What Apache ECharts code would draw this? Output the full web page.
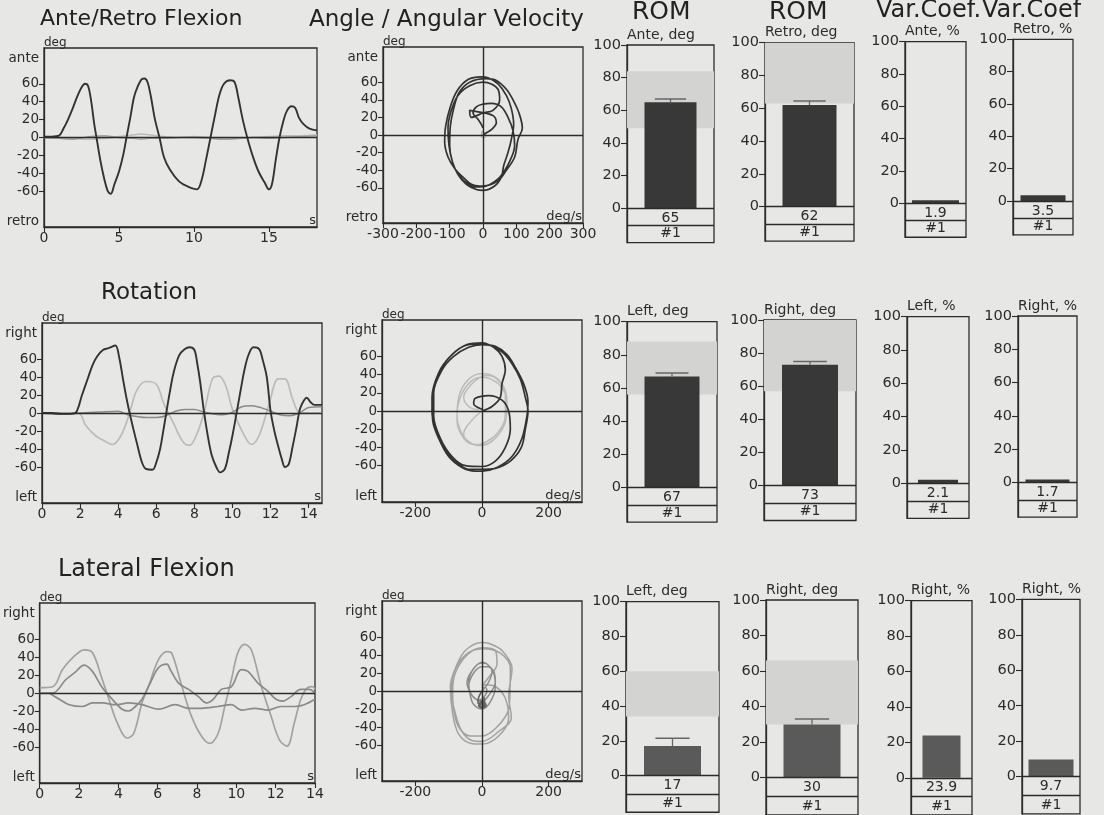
<!DOCTYPE html>
<html><head><meta charset="utf-8">
<script src="https://cdn.jsdelivr.net/npm/echarts@6/dist/echarts.min.js"></script>
<style>html,body{margin:0;padding:0;background:#e7e7e5;}#c{width:1104px;height:815px;}</style>
</head><body><div id="c"></div>
<script>
// ---------- DATA ----------
// Row 1: Ante/Retro flexion, time (s) vs angle (deg)
const t1Main = [[0,1],[0.5,1],[1.0,2],[1.3,10],[1.6,20],[1.9,32],[2.2,45],[2.5,56],[2.75,60],[2.95,57],[3.15,40],[3.35,15],[3.5,0],[3.75,-25],[4.0,-45],[4.25,-60],[4.45,-63],[4.7,-52],[5.0,-38],[5.3,-18],[5.5,0],[5.75,22],[6.0,45],[6.25,57],[6.5,65],[6.7,66],[6.9,62],[7.1,48],[7.4,20],[7.7,0],[8.0,-22],[8.4,-36],[9.0,-49],[9.6,-55],[10.2,-58],[10.5,-48],[10.8,-25],[11.1,0],[11.4,25],[11.7,48],[12.0,60],[12.4,64],[12.7,62],[12.95,45],[13.25,20],[13.55,0],[13.9,-20],[14.3,-38],[14.7,-50],[15.0,-58],[15.2,-52],[15.45,-25],[15.7,0],[15.95,18],[16.2,30],[16.5,35],[16.75,33],[17.0,22],[17.3,15],[17.7,10],[18.2,8]];
const t1Faint1 = [[0,0],[1,0],[2,-1],[3,-2],[4,-1],[5,1],[6,3],[6.5,4],[7,3],[8,1],[9,0],[10,1],[11,0],[12,-2],[13,-1],[14,0],[15,1],[16,2],[17,2],[18.2,3]];
const t1Faint2 = [[0,0],[1,-1],[2,-2],[3,1],[4,2],[5,0],[6,-1],[6.5,-2],[7,-1],[8,-1],[9,0],[10,0],[11,-1],[12,-2],[13,-1],[14,0],[15,-1],[16,0],[17,1],[18.2,2]];
// Row 1: angle vs angular velocity (deg/s, deg)
const p1Main = [[0,0],[8,2],[25,6],[40,14],[30,22],[-10,26],[-40,28],[-35,20],[0,25],[30,28],[50,40],[45,52],[25,58],[0,60],[-40,56],[-75,45],[-95,28],[-105,8],[-102,-12],[-92,-30],[-75,-45],[-50,-56],[-20,-62],[0,-63],[35,-58],[55,-48],[62,-35],[75,-20],[85,-5],[92,12],[85,30],[70,45],[45,58],[15,65],[-5,66],[-45,63],[-78,50],[-98,32],[-112,10],[-115,-8],[-105,-25],[-85,-38],[-60,-48],[-35,-56],[-10,-58],[0,-58],[45,-52],[70,-40],[95,-25],[105,-5],[118,8],[108,25],[90,40],[70,52],[40,62],[10,64],[-40,60],[-72,48],[-88,30],[-98,10],[-100,-12],[-92,-30],[-72,-46],[-40,-57],[-10,-59],[10,-58],[50,-48],[80,-30],[95,-12],[90,5],[75,20],[55,32],[25,36],[0,35],[-20,32],[-30,25],[-15,18],[-5,12],[0,8]];
const p1Faint = [[0,0],[8,3],[5,-3],[-5,-2],[-3,4],[6,2],[0,1]];

// Row 2: Rotation
const t2Main = [[0,0],[0.5,0],[1.0,-1],[1.5,-1],[1.8,1],[2.1,20],[2.4,38],[2.65,53],[2.9,63],[3.2,70],[3.5,72],[3.85,75],[4.05,62],[4.25,38],[4.45,15],[4.6,0],[4.8,-18],[5.0,-35],[5.25,-55],[5.45,-62],[5.8,-63],[6.0,-55],[6.2,-40],[6.35,-22],[6.5,-3],[6.7,22],[6.9,44],[7.2,64],[7.5,71],[7.75,73],[8.0,70],[8.15,55],[8.3,35],[8.5,2],[8.7,-25],[8.9,-46],[9.15,-60],[9.35,-66],[9.6,-62],[9.8,-45],[10.0,-25],[10.25,4],[10.45,28],[10.65,50],[10.85,65],[11.1,73],[11.4,71],[11.6,58],[11.8,40],[12.0,2],[12.2,-20],[12.4,-37],[12.6,-52],[12.75,-60],[12.95,-57],[13.15,-38],[13.35,-17],[13.55,5],[13.75,14],[13.9,17],[14.1,12],[14.3,9],[14.7,9]];
const t2Light = [[0,0],[1.9,0],[2.3,-14],[2.8,-25],[3.2,-30],[3.7,-35],[4.15,-25],[4.6,0],[4.95,24],[5.45,35],[6.0,32],[6.4,10],[6.85,-9],[7.4,-32],[7.75,-36],[8.1,-25],[8.5,0],[8.95,38],[9.3,41],[9.65,30],[10.0,4],[10.55,-22],[11.0,-35],[11.4,-25],[11.95,12],[12.4,38],[12.75,38],[13.15,16],[13.5,1],[14.0,0],[14.7,0]];
const t2Mid = [[0,0],[1,-1],[2,0],[3,1],[4,2],[4.5,-2],[5,-4],[5.5,-5],[6,-5],[6.5,-3],[7,2],[7.5,4],[8,4],[8.5,1],[9,-1],[9.5,-2],[10,1],[10.5,7],[11,8],[11.5,6],[12,2],[12.5,-2],[13,-3],[13.5,0],[14,6],[14.7,7]];
const p2Main = [[0,0],[30,5],[55,15],[60,30],[70,45],[60,60],[35,70],[0,75],[-45,73],[-90,62],[-125,45],[-148,20],[-150,0],[-140,-20],[-115,-40],[-80,-55],[-40,-64],[0,-64],[40,-63],[85,-55],[118,-40],[130,-20],[138,0],[130,15],[115,35],[90,52],[60,65],[25,72],[0,74],[-50,72],[-95,60],[-130,42],[-150,15],[-148,-10],[-130,-30],[-100,-50],[-60,-62],[-20,-66],[0,-66],[45,-62],[90,-50],[120,-30],[135,-5],[138,10],[125,30],[100,48],[75,62],[40,71],[0,73],[-40,70],[-85,60],[-120,45],[-145,20],[-145,-5],[-125,-30],[-90,-50],[-50,-60],[0,-61],[40,-55],[70,-40],[85,-20],[80,0],[60,12],[20,17],[-20,14],[-25,8],[0,2]];
const p2Light = [[0,0],[-30,-10],[-55,-25],[-40,-35],[0,-37],[45,-28],[70,-10],[75,10],[55,28],[20,36],[0,37],[-35,32],[-65,15],[-75,-5],[-60,-25],[-30,-36],[0,-38],[40,-30],[70,-12],[75,10],[60,30],[25,40],[0,41],[-40,35],[-70,15],[-75,-10],[-55,-30],[-20,-37],[0,-36],[45,-25],[70,-5],[70,20],[45,35],[15,39],[0,38],[-30,30],[-55,15],[-40,5],[-10,1]];

// Row 3: Lateral flexion
const t3A = [[0,6],[0.66,7],[1.16,26],[1.67,39],[2.26,48],[2.68,45],[3.18,15],[3.52,-7],[3.94,-33],[4.44,-50],[4.78,-45],[5.2,-11],[5.54,8],[6.04,37],[6.47,46],[6.72,44],[7.22,8],[7.72,-26],[8.23,-48],[8.65,-56],[9.07,-45],[9.41,-15],[9.75,15],[10.08,45],[10.42,54],[10.76,48],[11.26,8],[11.77,-26],[12.19,-52],[12.58,-59],[12.95,-33],[13.28,-7],[13.62,6],[13.87,7],[14.0,4]];
const t3B = [[0,0],[0.66,0],[1.33,15],[1.75,22],[2.26,31],[2.68,24],[3.18,6],[3.69,-7],[4.19,-18],[4.53,-20],[4.87,-15],[5.2,-7],[5.62,11],[6.04,28],[6.47,32],[6.64,26],[7.06,11],[7.57,4],[8.07,-4],[8.49,-11],[8.82,-7],[9.24,4],[9.75,7],[10.25,26],[10.59,24],[11.1,11],[11.6,2],[12.02,-7],[12.36,-9],[12.78,-4],[13.28,4],[13.7,4],[14.0,0]];
const t3C = [[0.49,0],[1.0,-7],[1.5,-13],[2.17,-15],[2.68,-11],[3.18,-11],[3.86,-13],[4.53,-11],[5.2,-13],[6.04,-18],[6.89,-13],[7.57,-17],[8.23,-17],[9.07,-15],[9.75,-13],[10.25,-19],[10.93,-17],[11.6,-19],[12.27,-15],[12.95,-15],[13.45,-13],[14.0,-7]];
const p3A = [[0,6],[20,15],[45,30],[40,45],[0,48],[-45,40],[-80,20],[-88,0],[-85,-20],[-70,-40],[-35,-50],[0,-50],[45,-40],[80,-20],[84,0],[85,25],[55,42],[0,47],[-50,40],[-85,20],[-92,0],[-80,-25],[-60,-45],[-30,-55],[0,-56],[50,-45],[88,-30],[80,-5],[90,25],[60,45],[20,53],[0,54],[-50,45],[-80,25],[-95,5],[-88,-25],[-70,-48],[-35,-58],[0,-59],[50,-50],[80,-30],[70,-8],[40,5],[10,7],[0,4]];
const p3B = [[0,0],[20,10],[30,22],[15,30],[0,31],[-25,25],[-40,10],[-35,-5],[-25,-15],[0,-20],[25,-12],[40,5],[35,20],[15,30],[0,32],[-25,25],[-45,10],[-35,-2],[-15,-10],[0,-11],[20,-5],[40,10],[35,22],[15,27],[0,27],[-25,20],[-40,5],[-30,-5],[-10,-10],[0,-9],[15,0],[10,4],[0,3]];
const p3C = [[0,0],[-10,-7],[-12,-13],[-5,-15],[5,-13],[8,-11],[-5,-12],[-8,-17],[0,-18],[10,-15],[5,-12],[-3,-13],[-10,-16],[0,-19],[12,-16],[8,-13],[0,-12],[-8,-15],[0,-17],[8,-12],[5,-7]];

// Tick labels
const timeTicksRow1 = [0,5,10,15];
const timeTicksRow23 = [0,2,4,6,8,10,12,14];
const angleTicks = [-60,-40,-20,0,20,40,60];
const velTicksRow1 = [-300,-200,-100,0,100,200,300];
const velTicksRow23 = [-200,0,200];
const endLabelsRow1 = ['ante','retro'];
const endLabelsRow23 = ['right','left'];
const barTicks = [0,20,40,60,80,100];

// Bars: ROM / variation coefficient
const barTitles = [['Ante, deg','Retro, deg','Ante, %','Retro, %'],['Left, deg','Right, deg','Left, %','Right, %'],['Left, deg','Right, deg','Right, %','Right, %']];
const barValues = [[65,62,1.9,3.5],[67,73,2.1,1.7],[17,30,23.9,9.7]];
const barErrTop = [[67,64.5,null,null],[69,75,null,null],[21.5,33,null,null]];
const normLow = [[49,63,null,null],[56,57,null,null],[34,30,null,null]];
const normHigh = [[84,100,null,null],[88,100,null,null],[60,66,null,null]];
const sessionLabel = '#1';

// ---------- LAYOUT / STYLE ----------
const FONT = '"DejaVu Sans", sans-serif';
const INK = '#2b2b2b';
const BAND = '#d3d3d1';
const BAR_MIN = -21, MID = -10.5;
const timeBoxes = [{left:44,top:48,width:273,height:179},{left:42,top:323,width:280,height:180},{left:37.5,top:603,width:277.5,height:180}];
const timeMax = [18.2,14.7,14.0];
const phaseBoxes = [{left:383,top:47,width:200,height:176},{left:382,top:320,width:200,height:182},{left:382,top:601,width:200,height:180}];
const barBoxes = [
 [{left:627,top:45,width:87,h:1.633,bw:52},{left:765,top:42.7,width:89,h:1.64,bw:54},{left:905,top:41.7,width:61,h:1.616,bw:47},{left:1013,top:39.3,width:60,h:1.617,bw:45}],
 [{left:627,top:321.7,width:90,h:1.657,bw:55},{left:764,top:320,width:92,h:1.657,bw:56},{left:907,top:316.7,width:62,h:1.666,bw:40},{left:1018,top:316,width:59,h:1.663,bw:44}],
 [{left:626,top:601.7,width:93,h:1.74,bw:57},{left:766,top:600,width:92,h:1.783,bw:57},{left:911,top:600.7,width:61,h:1.776,bw:38},{left:1022,top:599.3,width:58,h:1.774,bw:45}]
];
const barColors = ['#383838','#383838','#5a5a5a'];

const grids=[], xAxes=[], yAxes=[], series=[];
function addGrid(g){grids.push(Object.assign({show:true,borderColor:INK,borderWidth:1.3,backgroundColor:'transparent'},g));return grids.length-1;}

function angleYAxis(gi, endLabels){
  const pos=[88,-94];
  return {gridIndex:gi,type:'value',min:-100,max:100,name:'deg',nameLocation:'end',nameGap:0,
    nameTextStyle:{align:'left',verticalAlign:'bottom',fontSize:12,fontFamily:FONT,color:INK,padding:[0,0,-1,0]},
    axisLine:{show:true,onZero:false,lineStyle:{color:INK,width:1.3}},
    axisTick:{show:true,length:5,customValues:angleTicks,lineStyle:{color:INK,width:1.1}},
    axisLabel:{customValues:[pos[1]].concat(angleTicks,[pos[0]]),formatter:v=>v===pos[0]?endLabels[0]:(v===pos[1]?endLabels[1]:String(v)),fontSize:13.5,fontFamily:FONT,color:INK,margin:5},
    splitLine:{show:false}};
}
function bottomValueAxis(gi,min,max,ticks,name){
  return {gridIndex:gi,type:'value',min:min,max:max,name:name,nameLocation:'end',nameGap:0,
    nameTextStyle:{align:'right',verticalAlign:'bottom',fontSize:13,fontFamily:FONT,color:INK,padding:[0,1,0,0]},
    axisLine:{show:true,onZero:false,lineStyle:{color:INK,width:1.3}},
    axisTick:{show:true,inside:false,length:5,customValues:ticks,lineStyle:{color:INK,width:1.1}},
    axisLabel:{customValues:ticks,fontSize:14,fontFamily:FONT,color:INK,margin:4},
    splitLine:{show:false}};
}
function addLines(xi,yi,lines){
  lines.forEach((l,k)=>{
    const s={type:'line',xAxisIndex:xi,yAxisIndex:yi,data:l.data,showSymbol:false,smooth:0.35,silent:true,
      lineStyle:{color:l.color,width:l.width||1.7},z:l.z||2,animation:false};
    if(k===0){s.markLine={silent:true,symbol:['none','none'],label:{show:false},lineStyle:{color:INK,width:1.4,type:'solid'},data:l.cross}; }
    series.push(s);
  });
}
function timePlot(r,lines,ticks,endLabels){
  const gi=addGrid(timeBoxes[r]);
  xAxes.push(bottomValueAxis(gi,0,timeMax[r],ticks,'s'));
  yAxes.push(angleYAxis(gi,endLabels));
  lines[0].cross=[{yAxis:0}];
  addLines(xAxes.length-1,yAxes.length-1,lines);
}
function phasePlot(r,lines,ticks,endLabels){
  const gi=addGrid(phaseBoxes[r]);
  xAxes.push(bottomValueAxis(gi,-300,300,ticks,'deg/s'));
  yAxes.push(angleYAxis(gi,endLabels));
  lines[0].cross=[{xAxis:0},{yAxis:0}];
  addLines(xAxes.length-1,yAxes.length-1,lines);
}
function barPlot(r,c){
  const b=barBoxes[r][c];
  const val=barValues[r][c];
  const gi=addGrid({left:b.left,top:b.top,width:b.width,height:(100-BAR_MIN)*b.h});
  const xi=xAxes.length;
  xAxes.push({gridIndex:gi,type:'category',data:[sessionLabel],position:'bottom',
    axisLine:{show:false,onZero:false},axisTick:{show:false},
    axisLabel:{inside:true,fontSize:14,fontFamily:FONT,color:INK,margin:2}});
  const yi=yAxes.length;
  yAxes.push({gridIndex:gi,type:'value',min:BAR_MIN,max:100,name:barTitles[r][c],nameLocation:'end',nameGap:3,
    nameTextStyle:{align:'left',verticalAlign:'bottom',fontSize:14,fontFamily:FONT,color:INK,padding:[0,0,0,0]},
    axisLine:{show:true,onZero:false,lineStyle:{color:INK,width:1.3}},
    axisTick:{show:true,length:6,customValues:barTicks,lineStyle:{color:INK,width:1.1}},
    axisLabel:{customValues:barTicks,fontSize:14.5,fontFamily:FONT,color:INK,margin:6},
    splitLine:{show:false}});
  if(normLow[r][c]!==null){
    series.push({type:'custom',xAxisIndex:xi,yAxisIndex:yi,silent:true,z:1,encode:{x:0,y:[1,2]},
      data:[[0,normLow[r][c],normHigh[r][c]]],
      renderItem:(p,api)=>{const cs=p.coordSys;const hi=api.coord([api.value(0),api.value(2)]);const lo=api.coord([api.value(0),api.value(1)]);
        return {type:'rect',shape:{x:cs.x,y:hi[1],width:cs.width,height:lo[1]-hi[1]},style:{fill:BAND}};}});
  }
  series.push({type:'bar',xAxisIndex:xi,yAxisIndex:yi,data:[val],barWidth:b.bw,silent:true,z:3,
    itemStyle:{color:barColors[r]},
    label:{show:true,position:['50%','100%'],offset:[0,3],align:'center',verticalAlign:'top',formatter:()=>String(val),fontSize:14,fontFamily:FONT,color:INK},
    markLine:{silent:true,symbol:['none','none'],label:{show:false},lineStyle:{color:INK,width:1.3,type:'solid'},data:[{yAxis:0},{yAxis:MID}]}});
  if(barErrTop[r][c]!==null){
    const bw=b.bw;
    series.push({type:'custom',xAxisIndex:xi,yAxisIndex:yi,silent:true,z:4,encode:{x:0,y:[1,2]},
      data:[[0,val,barErrTop[r][c]]],
      renderItem:(p,api)=>{const a=api.coord([api.value(0),api.value(1)]);const e=api.coord([api.value(0),api.value(2)]);const h=bw*0.3;
        return {type:'group',children:[
          {type:'line',shape:{x1:a[0],y1:a[1],x2:e[0],y2:e[1]},style:{stroke:'#666',lineWidth:1.3}},
          {type:'line',shape:{x1:e[0]-h,y1:e[1],x2:e[0]+h,y2:e[1]},style:{stroke:'#666',lineWidth:1.5}}]};}});
  }
}

const DARK='#333333', MIDG='#8a8a8a', LIGHT='#bbbbbb';
timePlot(0,[{data:t1Main,color:DARK,width:1.9,z:3},{data:t1Faint1,color:LIGHT,width:1.5},{data:t1Faint2,color:'#a3a3a3',width:1.4}],timeTicksRow1,endLabelsRow1);
phasePlot(0,[{data:p1Main,color:DARK,width:1.7,z:3},{data:p1Faint,color:LIGHT,width:1.4}],velTicksRow1,endLabelsRow1);
timePlot(1,[{data:t2Main,color:DARK,width:1.9,z:3},{data:t2Light,color:LIGHT,width:1.7},{data:t2Mid,color:MIDG,width:1.5}],timeTicksRow23,endLabelsRow23);
phasePlot(1,[{data:p2Main,color:DARK,width:1.7,z:3},{data:p2Light,color:LIGHT,width:1.5}],velTicksRow23,endLabelsRow23);
timePlot(2,[{data:t3A,color:'#a2a2a2',width:1.7},{data:t3B,color:MIDG,width:1.7},{data:t3C,color:MIDG,width:1.7}],timeTicksRow23,endLabelsRow23);
phasePlot(2,[{data:p3A,color:'#a2a2a2',width:1.5},{data:p3B,color:'#8d8d8d',width:1.5},{data:p3C,color:'#666666',width:1.7,z:3}],velTicksRow23,endLabelsRow23);
for(let r=0;r<3;r++) for(let c=0;c<4;c++) barPlot(r,c);

const titleSpecs=[
 {text:'Ante/Retro Flexion',left:40,top:8,size:22},
 {text:'Angle / Angular Velocity',left:309,top:9,size:23},
 {text:'ROM',left:632,top:0,size:25},
 {text:'ROM',left:769,top:0,size:25},
 {text:'Var.Coef.',left:876,top:-1,size:24},
 {text:'Var.Coef',left:982,top:-1,size:24},
 {text:'Rotation',left:101,top:282,size:23},
 {text:'Lateral Flexion',left:58,top:558,size:24}
];
const chart=echarts.init(document.getElementById('c'));
chart.setOption({
  backgroundColor:'#e7e7e5',animation:false,
  title:titleSpecs.map(t=>({text:t.text,left:t.left,top:t.top,padding:0,textStyle:{fontSize:t.size,fontWeight:'normal',fontFamily:FONT,color:'#222'}})),
  grid:grids,xAxis:xAxes,yAxis:yAxes,series:series
});
</script></body></html>
